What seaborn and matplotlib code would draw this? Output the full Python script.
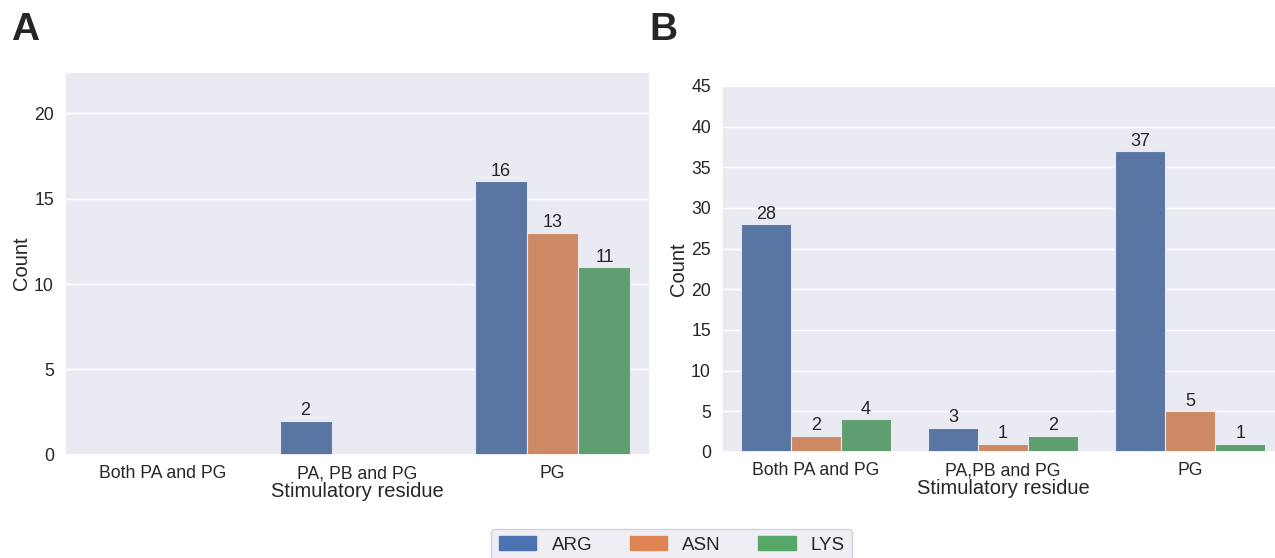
import pandas as pd
import matplotlib
matplotlib.use("Agg")
import matplotlib.pyplot as plt
import seaborn as sns

sns.set_theme(style="darkgrid")
plt.rcParams['font.family'] = ['Liberation Sans', 'DejaVu Sans']

# panel A
cats_a = ['Both PA and PG', 'PA, PB and PG', 'PG']
arg_a = [0, 2, 16]
asn_a = [0, 0, 13]
lys_a = [0, 0, 11]

# panel B
cats_b = ['Both PA and PG', 'PA,PB and PG', 'PG']
arg_b = [28, 3, 37]
asn_b = [2, 1, 5]
lys_b = [4, 2, 1]

residues = ['ARG', 'ASN', 'LYS']


def to_long(cats, arg, asn, lys):
    rows = []
    for name, vals in zip(residues, [arg, asn, lys]):
        for c, v in zip(cats, vals):
            rows.append({'Stimulatory residue': c, 'Residue': name, 'Count': v})
    return pd.DataFrame(rows)


df_a = to_long(cats_a, arg_a, asn_a, lys_a)
df_b = to_long(cats_b, arg_b, asn_b, lys_b)

fig = plt.figure(figsize=(12.75, 5.58), dpi=100)
ax_a = fig.add_axes([0.051, 0.1846, 0.4588, 0.6864])
ax_b = fig.add_axes([0.5663, 0.19, 0.4408, 0.6559])

for ax, df, top in [(ax_a, df_a, 22.4), (ax_b, df_b, 45)]:
    sns.barplot(data=df, x='Stimulatory residue', y='Count', hue='Residue',
                hue_order=residues, palette='deep', ax=ax,
                edgecolor='#e8e8f0', linewidth=0.8, legend=False)
    for cont in ax.containers:
        labels = [f'{int(b.get_height())}' if b.get_height() > 0 else '' for b in cont]
        ax.bar_label(cont, labels=labels, fontsize=13, padding=1, color='#262626')
    ax.set_ylim(0, top)
    ax.set_xlim(-0.5, 2.5)
    ax.tick_params(labelsize=12.7)
    ax.tick_params(axis='y', pad=2)
    ax.tick_params(axis='x', pad=1.5)
    ax.set_xlabel('Stimulatory residue', fontsize=14.5, labelpad=0)
    ax.set_ylabel('Count', fontsize=14.5, labelpad=2)

ax_a.set_yticks([0, 5, 10, 15, 20])
ax_b.set_yticks(range(0, 50, 5))

fig.text(0.009, 0.928, 'A', fontsize=28, fontweight='bold', va='baseline')
fig.text(0.509, 0.928, 'B', fontsize=28, fontweight='bold', va='baseline')

handles = [plt.Rectangle((0, 0), 1, 1, color=c) for c in sns.color_palette('deep', 3)]
fig.legend(handles, residues, loc='upper center', bbox_to_anchor=(0.527, 0.052),
           ncol=3, fontsize=13.5, frameon=True, borderaxespad=0)

fig.savefig('out.png', dpi=100)
